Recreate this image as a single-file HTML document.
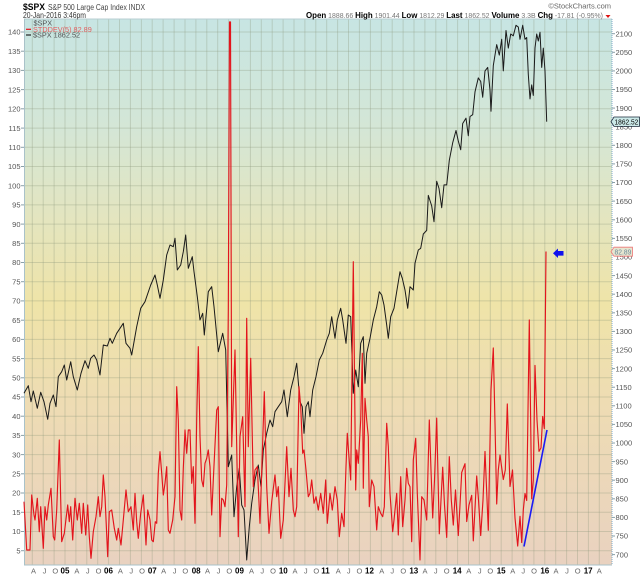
<!DOCTYPE html>
<html><head><meta charset="utf-8"><style>
html,body{margin:0;padding:0;background:#fff;}
svg{display:block;font-family:"Liberation Sans",sans-serif;}
</style></head><body>
<svg width="640" height="576" viewBox="0 0 640 576" xmlns="http://www.w3.org/2000/svg">
<defs>
<linearGradient id="bg" x1="0" y1="0" x2="0" y2="1">
<stop offset="0" stop-color="#c7e5e3"/>
<stop offset="0.2" stop-color="#d4e6d6"/>
<stop offset="0.36" stop-color="#e3e5c0"/>
<stop offset="0.52" stop-color="#efe4a8"/>
<stop offset="0.7" stop-color="#eedcb3"/>
<stop offset="1" stop-color="#e9d2c0"/>
</linearGradient>
</defs>
<rect x="0" y="0" width="640" height="576" fill="#fff"/>
<rect x="24" y="19" width="588" height="546" fill="url(#bg)"/>

<!-- horizontal grid -->
<g stroke="#8a9478" stroke-opacity="0.32" stroke-width="1">
<line x1="24" x2="612" y1="32" y2="32"/><line x1="24" x2="612" y1="51.2" y2="51.2"/><line x1="24" x2="612" y1="70.4" y2="70.4"/><line x1="24" x2="612" y1="89.6" y2="89.6"/><line x1="24" x2="612" y1="108.8" y2="108.8"/><line x1="24" x2="612" y1="128.1" y2="128.1"/><line x1="24" x2="612" y1="147.3" y2="147.3"/><line x1="24" x2="612" y1="166.5" y2="166.5"/><line x1="24" x2="612" y1="185.7" y2="185.7"/><line x1="24" x2="612" y1="204.9" y2="204.9"/><line x1="24" x2="612" y1="224.1" y2="224.1"/><line x1="24" x2="612" y1="243.3" y2="243.3"/><line x1="24" x2="612" y1="262.5" y2="262.5"/><line x1="24" x2="612" y1="281.7" y2="281.7"/><line x1="24" x2="612" y1="300.9" y2="300.9"/><line x1="24" x2="612" y1="320.2" y2="320.2"/><line x1="24" x2="612" y1="339.4" y2="339.4"/><line x1="24" x2="612" y1="358.6" y2="358.6"/><line x1="24" x2="612" y1="377.8" y2="377.8"/><line x1="24" x2="612" y1="397" y2="397"/><line x1="24" x2="612" y1="416.2" y2="416.2"/><line x1="24" x2="612" y1="435.4" y2="435.4"/><line x1="24" x2="612" y1="454.6" y2="454.6"/><line x1="24" x2="612" y1="473.8" y2="473.8"/><line x1="24" x2="612" y1="493" y2="493"/><line x1="24" x2="612" y1="512.3" y2="512.3"/><line x1="24" x2="612" y1="531.5" y2="531.5"/><line x1="24" x2="612" y1="550.7" y2="550.7"/>
</g>
<!-- vertical grid -->
<g stroke="#8a9478" stroke-opacity="0.32" stroke-width="1">
<line y1="19" y2="565" x1="32.3" x2="32.3"/><line y1="19" y2="565" x1="43.2" x2="43.2"/><line y1="19" y2="565" x1="54.1" x2="54.1"/><line y1="19" y2="565" x1="65" x2="65"/><line y1="19" y2="565" x1="75.9" x2="75.9"/><line y1="19" y2="565" x1="86.8" x2="86.8"/><line y1="19" y2="565" x1="97.7" x2="97.7"/><line y1="19" y2="565" x1="108.6" x2="108.6"/><line y1="19" y2="565" x1="119.5" x2="119.5"/><line y1="19" y2="565" x1="130.4" x2="130.4"/><line y1="19" y2="565" x1="141.4" x2="141.4"/><line y1="19" y2="565" x1="152.2" x2="152.2"/><line y1="19" y2="565" x1="163.1" x2="163.1"/><line y1="19" y2="565" x1="174.1" x2="174.1"/><line y1="19" y2="565" x1="185" x2="185"/><line y1="19" y2="565" x1="195.9" x2="195.9"/><line y1="19" y2="565" x1="206.8" x2="206.8"/><line y1="19" y2="565" x1="217.7" x2="217.7"/><line y1="19" y2="565" x1="228.6" x2="228.6"/><line y1="19" y2="565" x1="239.5" x2="239.5"/><line y1="19" y2="565" x1="250.4" x2="250.4"/><line y1="19" y2="565" x1="261.3" x2="261.3"/><line y1="19" y2="565" x1="272.2" x2="272.2"/><line y1="19" y2="565" x1="283.1" x2="283.1"/><line y1="19" y2="565" x1="294" x2="294"/><line y1="19" y2="565" x1="304.9" x2="304.9"/><line y1="19" y2="565" x1="315.8" x2="315.8"/><line y1="19" y2="565" x1="326.7" x2="326.7"/><line y1="19" y2="565" x1="337.6" x2="337.6"/><line y1="19" y2="565" x1="348.5" x2="348.5"/><line y1="19" y2="565" x1="359.4" x2="359.4"/><line y1="19" y2="565" x1="370.4" x2="370.4"/><line y1="19" y2="565" x1="381.3" x2="381.3"/><line y1="19" y2="565" x1="392.2" x2="392.2"/><line y1="19" y2="565" x1="403.1" x2="403.1"/><line y1="19" y2="565" x1="414" x2="414"/><line y1="19" y2="565" x1="424.9" x2="424.9"/><line y1="19" y2="565" x1="435.8" x2="435.8"/><line y1="19" y2="565" x1="446.7" x2="446.7"/><line y1="19" y2="565" x1="457.6" x2="457.6"/><line y1="19" y2="565" x1="468.5" x2="468.5"/><line y1="19" y2="565" x1="479.4" x2="479.4"/><line y1="19" y2="565" x1="490.3" x2="490.3"/><line y1="19" y2="565" x1="501.2" x2="501.2"/><line y1="19" y2="565" x1="512.1" x2="512.1"/><line y1="19" y2="565" x1="523" x2="523"/><line y1="19" y2="565" x1="533.9" x2="533.9"/><line y1="19" y2="565" x1="544.8" x2="544.8"/><line y1="19" y2="565" x1="555.7" x2="555.7"/><line y1="19" y2="565" x1="566.6" x2="566.6"/><line y1="19" y2="565" x1="577.5" x2="577.5"/><line y1="19" y2="565" x1="588.4" x2="588.4"/><line y1="19" y2="565" x1="599.3" x2="599.3"/>
</g>

<!-- frame -->
<line x1="24" y1="19" x2="612" y2="19" stroke="#b9cfd3" stroke-width="1"/>
<line x1="24.5" y1="19" x2="24.5" y2="565" stroke="#a9c2c9" stroke-width="1"/>
<line x1="24" y1="565" x2="612" y2="565" stroke="#a9c2c9" stroke-width="1"/>
<line x1="612" y1="19" x2="612" y2="565" stroke="#7fa9c8" stroke-width="1" stroke-dasharray="1,1"/>

<!-- SPX black line -->
<polyline fill="none" stroke="#1a1a1a" stroke-width="1" stroke-linejoin="round" points="24,393.3 28.3,385.7 31,401.7 33.3,391 37.3,408.3 40.7,392.3 44,401.7 47.7,419.3 50,403.3 53.3,395 56,406.7 58.3,376.7 61.7,371.7 64.3,365 66.7,380 70.7,361.7 73.3,376.7 77.3,390 81,373.3 85,360.7 88.3,368.3 90.7,358.3 94,355 96.7,360 100,375 103.3,345 107.3,346 110,338.3 112.3,343.3 116.7,333.3 120,328.3 123.3,323.3 126,343.3 130,348.3 131.7,355 136.7,326.7 140.7,308.3 145,301.7 150.7,285 155,275 157.3,285 160,298.3 163.3,280 166.7,255 170,245 173.3,246.7 175,238.3 177.3,270 180.7,265 183.3,251.7 185.7,235 188.3,268.3 192.3,256.7 194,271.7 197.3,296.7 200,320 202.7,313.3 204.3,335 208.3,291.7 211.7,286.7 214,306.7 218.3,351.7 222.7,333.3 225.7,350 228.3,466.7 231.7,455 234,516.7 236.7,486.7 239.3,468.3 241.7,505 244,510 246.7,560 249.3,526.7 251.7,503.3 255,480 258.3,465 261,486.7 263.3,450 266.7,433.3 270,420 272.7,426.7 275,411.7 278.3,406.7 281.7,401.7 284,390 287.3,416.7 290.7,390 294,376.7 296.7,363.3 300,401.7 302.3,406.7 304,433.3 306,406.7 308.3,401.7 310,416.7 312.7,390 316,376.7 319.3,360 322.7,353.3 326.7,340 329.3,333.3 331.7,316.7 335,338.3 337.3,320 340.7,308.3 342.7,320 346,343.3 348.3,315 350.7,316.7 353.3,393.3 355.7,370 358.3,386.7 360.7,343.3 363.3,336.7 365,383.3 366.7,353.3 370,338.3 373.3,320 376.7,306.7 379.3,291.7 381.7,295 384,305 386.7,325 388.3,338.3 390.7,316.7 394,308.3 396.7,291.7 400,271.7 402.3,278.3 405,290 407.7,308.3 410,286.7 413.3,290 415,263.3 418.3,250 420.7,248.3 423.3,234 426.7,230.4 428.3,195.4 431.7,205.9 434,221.7 436.7,181.3 439,188.4 441.7,207.7 444,184.9 446.7,184.9 449.3,160.3 452.7,142.8 456,130.5 458.3,141 460.7,149.8 462.7,123.5 466,118.2 468.3,135.7 470,116.5 472.7,114.7 475,91.9 478.3,77.9 480.7,81.4 482.7,97.2 485,70.9 487.7,67.4 490,90.1 491,111.2 493.3,65.6 496.7,44.6 499.3,55.1 501.7,39.3 503.3,70.9 506,30.5 508.3,48.1 510.7,34 513.3,35.8 516,25.3 518.3,27 520,39.3 522.7,25.3 525,39.3 526.7,37.5 528.3,74.4 530,98.9 531.7,84.9 533.3,95.4 535,48.1 536.7,34 538.3,41 540,32.3 541.7,67.4 543.3,48.1 545,70.9 546.7,121.7"/>

<!-- STDDEV red line -->
<polyline fill="none" stroke="#e3141c" stroke-width="1.15" stroke-linejoin="round" points="24,501.7 26.7,550 30,550 31.7,495 34,515 35,520 37.3,498.3 39.3,531.7 40.7,506.7 43.3,548.3 45,506.7 46.7,520 48.3,505 51,488.3 53.3,536.7 54.7,540 56.7,510 59.3,440 61.7,541.7 64.3,533.3 67.7,505 69.3,521.7 70.7,506.7 72.7,540 75,498.3 77.3,520 79.3,503.3 81.7,533.3 83.3,503.3 85.7,535 87.7,505 89.3,536.7 91,558.3 93.3,531.7 96,516.7 98.3,496.7 100,516.7 101.7,506.7 103.3,475 105,496.7 107.7,556.7 109.3,511.7 111.7,510 114.3,528.3 116.7,540 118.3,528.3 121,545 123.3,520 126,490 128.3,511.7 131,506.7 133.3,530 135,493.3 136.7,521.7 138.3,538.3 140.7,513.3 143.3,495 146,545 147.7,510 150,520 151.7,540 153.3,541.7 155.3,521.7 156.7,523.3 158.3,473.3 160,451.7 161.7,473.3 163.3,495 165,483.3 166.7,466.7 168.3,530 170,533.3 172.7,520 175,496.7 176.7,386.7 178.3,420 180,510 181.7,520 183.3,468.3 185,430 186.7,453.3 188.3,430 190,430 191.7,483.3 193.3,466.7 195,523.3 196.7,420 198.3,346.7 200,436.7 201.7,480 203.3,486.7 205,463.3 206.7,458.3 208.3,450 210,466.7 211.7,515 213.3,480 216.7,410 218.3,406.7 220,536.7 221.7,498.3 223.3,500 225,506.7 226.7,485 228.3,310 229.5,22 230.5,22 231.7,446.7 235,350 238.3,536.7 240,436.7 242.7,416.7 245,506.7 246.7,318.3 248.3,446.7 250.7,358.3 253.3,486.7 255,470 257.3,466.7 260,523.3 262.3,453.3 264.3,391.7 266.7,486.7 269,533.3 271.7,501.7 275,475 276.7,496.7 278.3,486.7 280.7,538.3 283.3,520 286.7,446.7 289,496.7 291,468.3 293.3,510 295,516.7 296.7,506.7 299,386.7 300.7,406.7 302.7,453.3 304,450 306,470 308.3,496.7 310,493.3 311.7,480 314,503.3 316,496.7 318.3,510 320.7,493.3 323.3,513.3 325.7,480 327.3,523.3 330,493.3 332.3,510 335,486.7 337.3,500 339.3,536.7 341.7,513.3 344,526.7 346,466.7 347.3,433.3 348.7,453.3 350.7,480 353.3,261.7 355.7,490 356.7,450 358.3,463.3 360.7,420 362.3,353.3 363.3,488.3 365,398.3 366.7,420 368.3,436.7 369.3,506.7 371.7,480 374,486.7 376.7,530 378.3,506.7 380.7,513.3 382.7,516.7 384.3,506.7 386.7,423.3 388.3,446.7 390,493.3 392.7,531.7 394,520 396.7,493.3 398.3,535 400.7,476.7 402.7,526.7 405,500 406.7,468.3 408.3,483.3 410,486.7 411.7,541.7 413.3,460 415.7,438.3 417.3,493.3 420,560 421.7,496.7 424,500 426.7,520 429.3,420 431,470 432.7,518 434.5,480 436.7,418.1 439.3,533.8 441,500 442.7,467.2 444.5,505 446.7,537.4 449.3,456.7 451.3,500 453.3,525.1 455.5,490 458.3,535.6 460,505 461.7,472.5 465,463.7 466.7,521.6 469,505 471.7,495.3 473.3,540.9 476.7,476 478.5,500 480.7,535.6 483,500 485,451.4 488.3,530.3 491,390 493.3,348 495,423.4 496.7,504 498.3,470 500,455 503.3,479.5 505.3,470 507.3,404 510,486.5 512.5,470 515,518 517.7,546.1 520,516.3 521.7,542.6 523.3,510 525,493.5 526.7,500.5 529.3,319.9 531.7,498.8 533.3,480 535,365.5 537,420 539,451.4 541,447.9 542.7,416.4 544.3,428.6 546,251.5"/>

<!-- blue trend line and arrow -->
<line x1="524" y1="546.5" x2="547" y2="430" stroke="#1b1bf5" stroke-width="1.6"/>
<polygon points="553,253.3 558,248.5 558,251 563.5,251 563.5,255.6 558,255.6 558,258" fill="#1010ee"/>

<!-- left ticks -->
<g stroke="#8aa0a8" stroke-width="1">
<line x1="21" x2="24" y1="32" y2="32"/><line x1="21" x2="24" y1="51.2" y2="51.2"/><line x1="21" x2="24" y1="70.4" y2="70.4"/><line x1="21" x2="24" y1="89.6" y2="89.6"/><line x1="21" x2="24" y1="108.8" y2="108.8"/><line x1="21" x2="24" y1="128.1" y2="128.1"/><line x1="21" x2="24" y1="147.3" y2="147.3"/><line x1="21" x2="24" y1="166.5" y2="166.5"/><line x1="21" x2="24" y1="185.7" y2="185.7"/><line x1="21" x2="24" y1="204.9" y2="204.9"/><line x1="21" x2="24" y1="224.1" y2="224.1"/><line x1="21" x2="24" y1="243.3" y2="243.3"/><line x1="21" x2="24" y1="262.5" y2="262.5"/><line x1="21" x2="24" y1="281.7" y2="281.7"/><line x1="21" x2="24" y1="300.9" y2="300.9"/><line x1="21" x2="24" y1="320.2" y2="320.2"/><line x1="21" x2="24" y1="339.4" y2="339.4"/><line x1="21" x2="24" y1="358.6" y2="358.6"/><line x1="21" x2="24" y1="377.8" y2="377.8"/><line x1="21" x2="24" y1="397" y2="397"/><line x1="21" x2="24" y1="416.2" y2="416.2"/><line x1="21" x2="24" y1="435.4" y2="435.4"/><line x1="21" x2="24" y1="454.6" y2="454.6"/><line x1="21" x2="24" y1="473.8" y2="473.8"/><line x1="21" x2="24" y1="493" y2="493"/><line x1="21" x2="24" y1="512.3" y2="512.3"/><line x1="21" x2="24" y1="531.5" y2="531.5"/><line x1="21" x2="24" y1="550.7" y2="550.7"/>
</g>
<g font-size="7.5" fill="#555" text-anchor="end">
<text x="20.5" y="34.7">140</text><text x="20.5" y="53.9">135</text><text x="20.5" y="73.1">130</text><text x="20.5" y="92.3">125</text><text x="20.5" y="111.5">120</text><text x="20.5" y="130.8">115</text><text x="20.5" y="150">110</text><text x="20.5" y="169.2">105</text><text x="20.5" y="188.4">100</text><text x="20.5" y="207.6">95</text><text x="20.5" y="226.8">90</text><text x="20.5" y="246">85</text><text x="20.5" y="265.2">80</text><text x="20.5" y="284.4">75</text><text x="20.5" y="303.6">70</text><text x="20.5" y="322.9">65</text><text x="20.5" y="342.1">60</text><text x="20.5" y="361.3">55</text><text x="20.5" y="380.5">50</text><text x="20.5" y="399.7">45</text><text x="20.5" y="418.9">40</text><text x="20.5" y="438.1">35</text><text x="20.5" y="457.3">30</text><text x="20.5" y="476.5">25</text><text x="20.5" y="495.7">20</text><text x="20.5" y="515">15</text><text x="20.5" y="534.2">10</text><text x="20.5" y="553.4">5</text>
</g>

<!-- right ticks -->
<g stroke="#8aa0a8" stroke-width="1">
<line x1="612" x2="615" y1="33.7" y2="33.7"/><line x1="612" x2="615" y1="52.3" y2="52.3"/><line x1="612" x2="615" y1="70.9" y2="70.9"/><line x1="612" x2="615" y1="89.5" y2="89.5"/><line x1="612" x2="615" y1="108.1" y2="108.1"/><line x1="612" x2="615" y1="145.3" y2="145.3"/><line x1="612" x2="615" y1="163.9" y2="163.9"/><line x1="612" x2="615" y1="182.5" y2="182.5"/><line x1="612" x2="615" y1="201.1" y2="201.1"/><line x1="612" x2="615" y1="219.8" y2="219.8"/><line x1="612" x2="615" y1="238.4" y2="238.4"/><line x1="612" x2="615" y1="275.6" y2="275.6"/><line x1="612" x2="615" y1="294.2" y2="294.2"/><line x1="612" x2="615" y1="312.8" y2="312.8"/><line x1="612" x2="615" y1="331.4" y2="331.4"/><line x1="612" x2="615" y1="350" y2="350"/><line x1="612" x2="615" y1="368.6" y2="368.6"/><line x1="612" x2="615" y1="387.2" y2="387.2"/><line x1="612" x2="615" y1="405.8" y2="405.8"/><line x1="612" x2="615" y1="424.4" y2="424.4"/><line x1="612" x2="615" y1="443" y2="443"/><line x1="612" x2="615" y1="461.6" y2="461.6"/><line x1="612" x2="615" y1="480.2" y2="480.2"/><line x1="612" x2="615" y1="498.8" y2="498.8"/><line x1="612" x2="615" y1="517.4" y2="517.4"/><line x1="612" x2="615" y1="536" y2="536"/><line x1="612" x2="615" y1="554.6" y2="554.6"/>
</g>
<g font-size="7.5" fill="#555">
<text x="615.5" y="36.4">2100</text><text x="615.5" y="55">2050</text><text x="615.5" y="73.6">2000</text><text x="615.5" y="92.2">1950</text><text x="615.5" y="110.8">1900</text><text x="615.5" y="129.4">1850</text><text x="615.5" y="148">1800</text><text x="615.5" y="166.6">1750</text><text x="615.5" y="185.2">1700</text><text x="615.5" y="203.8">1650</text><text x="615.5" y="222.5">1600</text><text x="615.5" y="241.1">1550</text><text x="615.5" y="259.7">1500</text><text x="615.5" y="278.3">1450</text><text x="615.5" y="296.9">1400</text><text x="615.5" y="315.5">1350</text><text x="615.5" y="334.1">1300</text><text x="615.5" y="352.7">1250</text><text x="615.5" y="371.3">1200</text><text x="615.5" y="389.9">1150</text><text x="615.5" y="408.5">1100</text><text x="615.5" y="427.1">1050</text><text x="615.5" y="445.7">1000</text><text x="615.5" y="464.3">950</text><text x="615.5" y="482.9">900</text><text x="615.5" y="501.5">850</text><text x="615.5" y="520.1">800</text><text x="615.5" y="538.7">750</text><text x="615.5" y="557.3">700</text>
</g>

<!-- current value labels -->
<path d="M611,121.7 L614,117 L639.5,117 L639.5,126.4 L614,126.4 Z" fill="#cbe9e8" stroke="#1a2a3a" stroke-width="0.8"/>
<text x="614.5" y="124.6" font-size="7.4" fill="#000" textLength="23.8" lengthAdjust="spacingAndGlyphs">1862.52</text>
<path d="M611,251.7 L614,247.2 L632.5,247.2 L632.5,256.2 L614,256.2 Z" fill="#e6e6d0" stroke="#e77" stroke-width="0.8"/>
<text x="614.5" y="254.5" font-size="7.4" fill="#6a8a9a" textLength="16.8" lengthAdjust="spacingAndGlyphs">82.89</text>

<!-- bottom axis labels -->
<g font-size="7.5" fill="#666" text-anchor="middle">
<text x="33.5" y="573.5">A</text><text x="44.5" y="573.5">J</text><text x="55.3" y="573.5">O</text>
<text x="76.9" y="573.5">A</text><text x="87.8" y="573.5">J</text><text x="98.5" y="573.5">O</text>
<text x="120.4" y="573.5">A</text><text x="131.3" y="573.5">J</text><text x="142" y="573.5">O</text>
<text x="163.6" y="573.5">A</text><text x="174.6" y="573.5">J</text><text x="185.3" y="573.5">O</text>
<text x="207.5" y="573.5">A</text><text x="218.5" y="573.5">J</text><text x="229.3" y="573.5">O</text>
<text x="251.5" y="573.5">A</text><text x="262.3" y="573.5">J</text><text x="273" y="573.5">O</text>
<text x="295" y="573.5">A</text><text x="305.7" y="573.5">J</text><text x="316.3" y="573.5">O</text>
<text x="338.3" y="573.5">A</text><text x="348.7" y="573.5">J</text><text x="359.4" y="573.5">O</text>
<text x="381.7" y="573.5">A</text><text x="392.3" y="573.5">J</text><text x="403.3" y="573.5">O</text>
<text x="425" y="573.5">A</text><text x="435.7" y="573.5">J</text><text x="446.7" y="573.5">O</text>
<text x="468.7" y="573.5">A</text><text x="479.7" y="573.5">J</text><text x="490.3" y="573.5">O</text>
<text x="512.7" y="573.5">A</text><text x="523.3" y="573.5">J</text><text x="534" y="573.5">O</text>
<text x="556" y="573.5">A</text><text x="567" y="573.5">J</text><text x="577.7" y="573.5">O</text>
<text x="599.3" y="573.5">A</text>
</g>
<g font-size="8" font-weight="bold" fill="#000" text-anchor="middle">
<text x="65" y="573.5">05</text><text x="108.5" y="573.5">06</text><text x="152.3" y="573.5">07</text><text x="196.2" y="573.5">08</text><text x="239.5" y="573.5">09</text><text x="283.3" y="573.5">10</text><text x="325.5" y="573.5">11</text><text x="369.5" y="573.5">12</text><text x="413.8" y="573.5">13</text><text x="457.2" y="573.5">14</text><text x="501.2" y="573.5">15</text><text x="544.8" y="573.5">16</text><text x="588.2" y="573.5">17</text>
</g>

<!-- header -->
<text x="23" y="10" font-size="9.5" font-weight="bold" fill="#000" textLength="22" lengthAdjust="spacingAndGlyphs">$SPX</text>
<text x="48" y="10" font-size="8" fill="#444" textLength="97" lengthAdjust="spacingAndGlyphs">S&amp;P 500 Large Cap Index  INDX</text>
<text x="23" y="18" font-size="7.8" fill="#333" textLength="63" lengthAdjust="spacingAndGlyphs">20-Jan-2016 3:46pm</text>
<text x="611" y="8.5" font-size="7.5" fill="#666" text-anchor="end">©StockCharts.com</text>
<text x="306" y="18" font-size="8" fill="#000" textLength="297" lengthAdjust="spacingAndGlyphs"><tspan font-weight="bold">Open</tspan><tspan fill="#777" font-size="7"> 1888.66 </tspan><tspan font-weight="bold">High</tspan><tspan fill="#777" font-size="7"> 1901.44 </tspan><tspan font-weight="bold">Low</tspan><tspan fill="#777" font-size="7"> 1812.29 </tspan><tspan font-weight="bold">Last</tspan><tspan fill="#777" font-size="7"> 1862.52 </tspan><tspan font-weight="bold">Volume</tspan><tspan fill="#777" font-size="7"> 3.3B </tspan><tspan font-weight="bold">Chg</tspan><tspan fill="#777" font-size="7"> -17.81 (-0.95%)</tspan></text>
<polygon points="605.5,15 610.5,15 608,18" fill="#d11"/>

<!-- legend -->
<text x="33.5" y="25.5" font-size="7.3" fill="#555">$SPX</text>
<line x1="26" y1="29.3" x2="31" y2="29.3" stroke="#e3141c" stroke-width="1.2"/>
<text x="33" y="31.8" font-size="7.3" fill="#e06060">STDDEV(5) 82.89</text>
<line x1="26" y1="35" x2="31" y2="35" stroke="#222" stroke-width="1.2"/>
<text x="33" y="37.6" font-size="7.3" fill="#555">$SPX 1862.52</text>
</svg>
</body></html>
